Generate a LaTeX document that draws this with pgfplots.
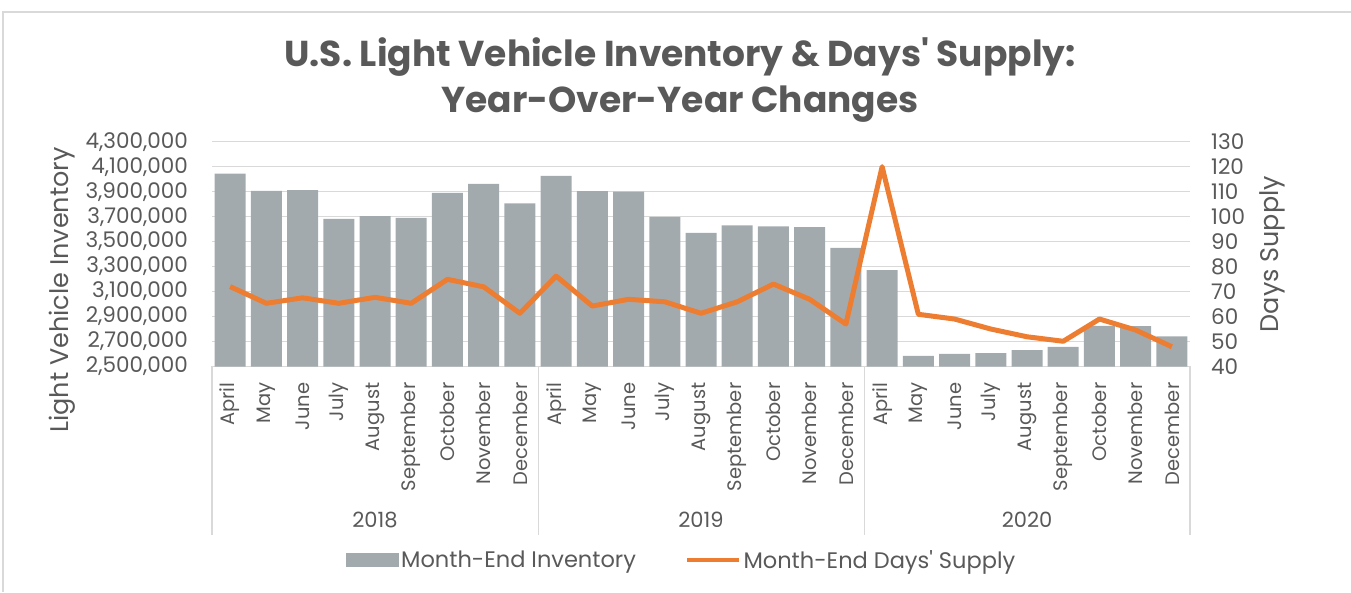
\documentclass[border=0pt]{standalone}
\usepackage{fontspec}
\setmainfont{Poppins}[Ligatures=TeXOff]
\usepackage{pgfplots}
\usepackage{pgfplotstable}
\pgfplotsset{compat=1.18}
\definecolor{barc}{HTML}{A3AAAD}
\definecolor{linec}{HTML}{ED7D31}
\definecolor{txt}{HTML}{595959}
\definecolor{gridc}{HTML}{D9D9D9}

\pgfplotstableread{
x inv days
0 4045000 72
1 3906000 65.3
2 3912000 67.5
3 3682000 65.3
4 3704000 67.7
5 3690000 65.3
6 3890000 74.9
7 3962000 71.9
8 3806000 61.3
9 4026000 76.2
10 3904000 64.2
11 3901000 66.9
12 3698000 65.9
13 3570000 61.3
14 3630000 65.9
15 3622000 73
16 3616000 66.9
17 3450000 57
18 3272000 120
19 2586000 60.9
20 2602000 59
21 2608000 55
22 2632000 51.9
23 2658000 50.1
24 2826000 59
25 2824000 54.6
26 2742000 47.9
}\datatable

\begin{document}
\begin{tikzpicture}
\useasboundingbox (0pt,0pt) rectangle (1351pt,592pt);
\draw[gridc, line width=2pt] (3pt,0pt) -- (3pt,580pt) -- (1351pt,580pt);
\node[font=\fontsize{36}{46}\selectfont\bfseries, text=txt, align=center] at (680pt,512pt) {U.S. Light Vehicle Inventory \& Days' Supply:\\Year-Over-Year Changes};

\begin{axis}[
 at={(212pt,225.5pt)}, anchor=south west,
 scale only axis, width=978pt, height=224.8pt,
 xmin=-0.5, xmax=26.5, ymin=2500000, ymax=4300000,
 ytick={2500000,2700000,2900000,3100000,3300000,3500000,3700000,3900000,4100000,4300000},
 scaled y ticks=false,
 yticklabel style={/pgf/number format/fixed, /pgf/number format/1000 sep={,}, /pgf/number format/assume math mode=true},
 ymajorgrids, grid style={gridc, line width=1.5pt},
 axis x line*=bottom, axis y line*=left,
 y axis line style={draw=none},
 x axis line style={gridc, line width=1.5pt, -},
 major tick length=0pt,
 xtick={0,...,26},
 xticklabels={April,May,June,July,August,September,October,November,December,April,May,June,July,August,September,October,November,December,April,May,June,July,August,September,October,November,December},
 xticklabel style={rotate=90, anchor=east, inner sep=0pt, font=\fontsize{19.5}{21}\selectfont, text=txt},
 xticklabel shift=16pt,
 yticklabel style={font=\fontsize{21.5}{23}\selectfont, text=txt, inner sep=0pt},
 yticklabel shift=24pt,
 legend style={at={(0.137,-0.861)}, anchor=west, draw=none, fill=none, inner sep=0pt, legend columns=2, font=\fontsize{22.5}{24}\selectfont, text=txt, /tikz/every even column/.append style={column sep=47pt}},
]
\addplot[ybar, bar width=31pt, fill=barc, draw=none, legend image code/.code={\fill[barc] (0pt,-7pt) rectangle (53pt,7pt);}] table[x=x, y=inv] {\datatable};
\addlegendentry{Month-End Inventory}
\addlegendimage{legend image code/.code={\draw[linec, line width=4.5pt] (0pt,0pt) -- (52pt,0pt);}}
\addlegendentry{Month-End Days' Supply}
\end{axis}

\begin{axis}[
 at={(212pt,225.5pt)}, anchor=south west,
 scale only axis, width=978pt, height=224.8pt,
 xmin=-0.5, xmax=26.5, ymin=40, ymax=130,
 ytick={40,50,60,70,80,90,100,110,120,130},
 axis y line*=right, axis x line=none,
 y axis line style={draw=none},
 major tick length=0pt,
 yticklabel style={font=\fontsize{21.5}{23}\selectfont, text=txt, inner sep=0pt, /pgf/number format/assume math mode=true},
 yticklabel shift=21pt,
]
\addplot[linec, line width=5pt, line join=round] table[x=x, y=days] {\datatable};
\end{axis}

% category separators and year labels
\foreach \xx in {212,538.3,864.7,1190} {\draw[gridc, line width=1.5pt] (\xx pt,225.5pt) -- (\xx pt,57pt);}
\foreach \xx/\yy in {375/2018,701/2019,1027/2020} {\node[font=\fontsize{21}{23}\selectfont, text=txt] at (\xx pt,72pt) {\yy};}
\node[rotate=90, font=\fontsize{25.5}{27}\selectfont, text=txt] at (62pt,302pt) {Light Vehicle Inventory};
\node[rotate=90, font=\fontsize{25.5}{27}\selectfont, text=txt] at (1272pt,338pt) {Days Supply};
\end{tikzpicture}
\end{document}
